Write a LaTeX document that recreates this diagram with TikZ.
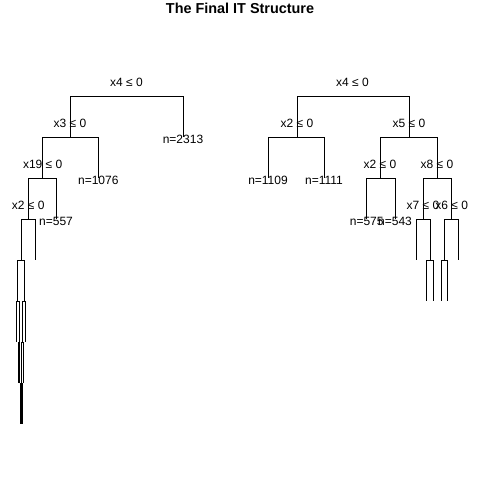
\documentclass[tikz,border=0pt]{standalone}
\usepackage{fontspec}
\setmainfont{Liberation Sans}
\usetikzlibrary{positioning}
\tikzstyle{split} = [inner sep=0pt, font=\fontsize{12}{12}\selectfont]
\tikzstyle{leaf} = [inner sep=0pt, font=\fontsize{12}{12}\selectfont]
\tikzstyle{branch} = [line width=1pt]

\begin{document}
\begin{tikzpicture}[x=1pt,y=-1pt]
    \useasboundingbox (0,0) rectangle (480,480);
    \node[inner sep=0pt, font=\bfseries\fontsize{14.4}{14.4}\selectfont] (title) at (240,8) {The Final IT Structure};

    % left tree
    \coordinate (r) at (126.5,96);
    \coordinate (a) at (70,137);     \coordinate (la) at (183,137);
    \coordinate (b) at (42.7,178);   \coordinate (lb) at (98.3,178);
    \coordinate (c) at (28.3,219);   \coordinate (lc) at (56,219);
    \coordinate (d) at (21.3,260);   \coordinate (ld) at (35,260);
    \coordinate (d1) at (17.5,301);  \coordinate (d2) at (24.2,301);
    \coordinate (d11) at (16.7,342); \coordinate (d12) at (19,342);
    \coordinate (d21) at (22,342);   \coordinate (d22) at (25.7,342);
    \coordinate (d121) at (18,383);  \coordinate (d122) at (19.7,383);
    \coordinate (d211) at (21.3,383); \coordinate (d212) at (23.3,383);
    \coordinate (e1) at (20.2,424);  \coordinate (e2) at (20.9,424);
    \coordinate (e3) at (21.6,424);  \coordinate (e4) at (22.3,424);

    \foreach \p/\c in {r/a, r/la, a/b, a/lb, b/c, b/lc, c/d, c/ld, d/d1, d/d2,
        d1/d11, d1/d12, d2/d21, d2/d22, d12/d121, d12/d122, d21/d211, d21/d212,
        d122/e1, d122/e2, d211/e3, d211/e4}
        \draw[branch] (\p) -| (\c);

    \node[split] (sr) at ([yshift=13.5pt]r) {x4 ≤ 0};
    \node[split] (sa) at ([yshift=13.5pt]a) {x3 ≤ 0};
    \node[split] (sb) at ([yshift=13.5pt]b) {x19 ≤ 0};
    \node[split] (sc) at ([yshift=13.5pt]c) {x2 ≤ 0};
    \node[leaf] (na) at ([yshift=-2.5pt]la) {n=2313};
    \node[leaf] (nb) at ([yshift=-2.5pt]lb) {n=1076};
    \node[leaf] (nc) at ([yshift=-2.5pt]lc) {n=557};

    % right tree
    \coordinate (R) at (352.5,96);
    \coordinate (f) at (297,137);    \coordinate (g) at (409,137);
    \coordinate (lf1) at (268,178);  \coordinate (lf2) at (324,178);
    \coordinate (h) at (380,178);    \coordinate (i) at (437,178);
    \coordinate (lh1) at (366.7,219); \coordinate (lh2) at (395,219);
    \coordinate (j) at (423,219);    \coordinate (k) at (451.7,219);
    \coordinate (lj) at (416,260);   \coordinate (j2) at (430,260);
    \coordinate (k1) at (444,260);   \coordinate (lk) at (458.7,260);
    \coordinate (j21) at (426.7,301); \coordinate (j22) at (433,301);
    \coordinate (k11) at (441,301);  \coordinate (k12) at (447.3,301);

    \foreach \p/\c in {R/f, R/g, f/lf1, f/lf2, g/h, g/i, h/lh1, h/lh2, i/j, i/k,
        j/lj, j/j2, k/k1, k/lk, j2/j21, j2/j22, k1/k11, k1/k12}
        \draw[branch] (\p) -| (\c);

    \node[split] (sR) at ([yshift=13.5pt]R) {x4 ≤ 0};
    \node[split] (sf) at ([yshift=13.5pt]f) {x2 ≤ 0};
    \node[split] (sg) at ([yshift=13.5pt]g) {x5 ≤ 0};
    \node[split] (sh) at ([yshift=13.5pt]h) {x2 ≤ 0};
    \node[split] (si) at ([yshift=13.5pt]i) {x8 ≤ 0};
    \node[split] (sj) at ([yshift=13.5pt]j) {x7 ≤ 0};
    \node[split] (sk) at ([yshift=13.5pt]k) {x6 ≤ 0};
    \node[leaf] (nf1) at ([yshift=-2.5pt]lf1) {n=1109};
    \node[leaf] (nf2) at ([yshift=-2.5pt]lf2) {n=1111};
    \node[leaf] (nh1) at ([yshift=-2.5pt]lh1) {n=575};
    \node[leaf] (nh2) at ([yshift=-2.5pt]lh2) {n=543};
\end{tikzpicture}
\end{document}
